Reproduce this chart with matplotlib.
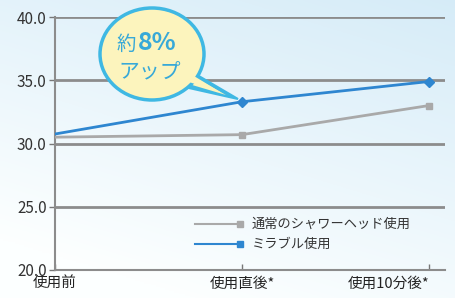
import numpy as np
import matplotlib.pyplot as plt
from matplotlib.patches import Ellipse, Polygon
from matplotlib.lines import Line2D

plt.rcParams['font.family'] = ['Noto Sans CJK JP', 'DejaVu Sans']

categories = ['使用前', '使用直後*', '使用10分後*']
normal = [30.5, 30.7, 33.0]
mirable = [30.75, 33.3, 34.9]
series_names = ['通常のシャワーヘッド使用', 'ミラブル使用']
yticks = [20.0, 25.0, 30.0, 35.0, 40.0]
gray_c = '#a9a9a9'
blue_c = '#2e86d0'

W, H = 455, 298
fig = plt.figure(figsize=(4.55, 2.98), dpi=100)


def fx(px):
    return px / W


def fy(py):
    return 1 - py / H


# background gradient
bg = fig.add_axes([0, 0, 1, 1], zorder=-10)
gx, gy = np.meshgrid(np.linspace(0, 1, 200), np.linspace(0, 1, 200))
t = np.clip(0.75 * gy + 0.35 * gx - 0.15, 0, 1)
top = np.array([0.83, 0.92, 0.97])
bot = np.array([0.99, 1.0, 1.0])
img = bot + (top - bot) * t[..., None]
bg.imshow(img, origin='lower', extent=[0, 1, 0, 1], aspect='auto')
bg.axis('off')

ax = fig.add_axes([fx(55), 28 / H, 390 / W, 253 / H])
ax.patch.set_alpha(0)
x = np.arange(len(categories))
ax.plot(x, normal, color=gray_c, lw=2, marker='s', ms=5, markevery=[1, 2], zorder=3)
ax.plot(x, mirable, color=blue_c, lw=2, marker='D', ms=5, markevery=[1, 2], zorder=4)

ax.set_ylim(20, 40)
ax.set_xlim(0, 2.086)
ax.set_yticks(yticks)
ax.set_yticklabels([f'{v:.1f}' for v in yticks], fontsize=11, color='#333333')
for v in yticks[1:]:
    ax.axhline(v, color='#8c8c8c', lw=2, zorder=1)
ax.set_xticks(x)
ax.set_xticklabels(categories, fontsize=10.5, color='#222222')
ax.tick_params(axis='y', length=4, width=1, color='#777777', pad=2)
ax.tick_params(axis='x', direction='in', length=4, width=1, color='#777777', pad=5)
for s in ['top', 'right']:
    ax.spines[s].set_visible(False)
for s in ['left', 'bottom']:
    ax.spines[s].set_color('#8c8c8c')
    ax.spines[s].set_linewidth(1.5)
labels = ax.get_xticklabels()
labels[2].set_ha('right')
labels[2].set_x(2.1)

# legend drawn by hand: marker only at the right end of each sample line
for i, (name, c) in enumerate(zip(series_names, [gray_c, blue_c])):
    yy = fy(224 + 20 * i)
    fig.add_artist(Line2D([fx(195), fx(240)], [yy, yy], color=c, lw=1.5,
                          transform=fig.transFigure))
    fig.add_artist(Line2D([fx(240)], [yy], color=c, marker='s', ms=5, lw=0,
                          transform=fig.transFigure))
    fig.text(fx(252), yy, name, fontsize=9.5, color='#333333', ha='left', va='center')

# callout bubble
bubble_c = '#3fb8e3'
fill_c = '#fcf4bd'
fig.patches.append(Polygon([(fx(192), fy(72)), (fx(238), fy(99)), (fx(180), fy(86))],
                           closed=True, transform=fig.transFigure, fc=bubble_c,
                           ec=bubble_c, lw=1.5, zorder=5))
fig.patches.append(Polygon([(fx(190), fy(75)), (fx(226), fy(95)), (fx(182), fy(82))],
                           closed=True, transform=fig.transFigure, fc=fill_c,
                           ec='none', zorder=5.5))
fig.patches.append(Ellipse((fx(152), fy(54)), 104 / W, 92 / H,
                           transform=fig.transFigure, fc=fill_c, ec=bubble_c,
                           lw=2.5, zorder=6))
fig.patches.append(Polygon([(fx(189), fy(73)), (fx(222), fy(93)), (fx(183), fy(80))],
                           closed=True, transform=fig.transFigure, fc=fill_c,
                           ec='none', zorder=7))
fig.text(fx(117), fy(44), '約', fontsize=14, color='#38a9d8',
         ha='left', va='center', zorder=8)
fig.text(fx(138), fy(43), '8%', fontsize=18, fontweight='bold',
         color='#38a9d8', ha='left', va='center', zorder=8)
fig.text(fx(150), fy(71), 'アップ', fontsize=15, color='#38a9d8',
         ha='center', va='center', zorder=8)

fig.savefig('out.png', dpi=100)
